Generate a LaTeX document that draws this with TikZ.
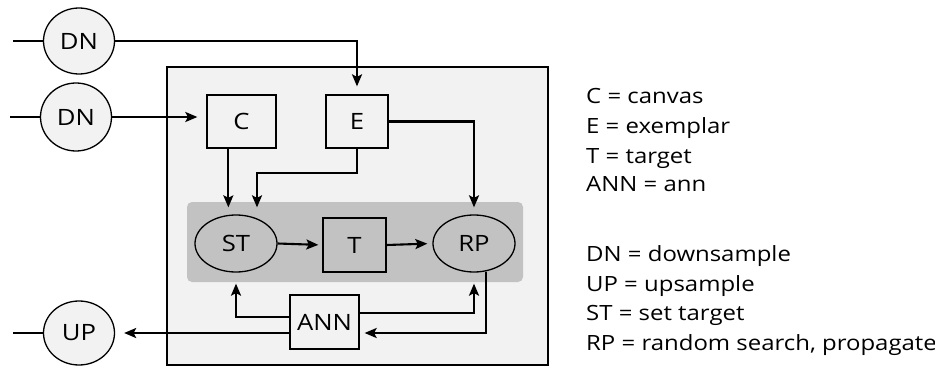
\documentclass[tikz,border=0pt]{standalone}
\usepackage{fontspec}
\setmainfont{Open Sans}[FakeStretch=1.14]
\usetikzlibrary{shapes.geometric,arrows.meta,calc}
\definecolor{lightbg}{HTML}{F2F2F2}
\definecolor{bandgray}{HTML}{C2C2C2}
\tikzset{
  box/.style={draw, line width=1.3pt, fill=lightbg, minimum width=#1, inner sep=0pt, font=\fontsize{22.5}{26}\selectfont},
  ell/.style={draw, ellipse, line width=1.3pt, inner sep=0pt, font=\fontsize{22.5}{26}\selectfont},
  conn/.style={line width=2.1pt},
  arr/.style={conn, -{Stealth[length=12pt,width=10pt,inset=2.5pt]}},
  legend/.style={anchor=base west, inner sep=0pt, font=\fontsize{21}{25}\selectfont}
}
\begin{document}
\begin{tikzpicture}[x=1pt,y=-1pt]
\useasboundingbox (0,0) rectangle (935,369);
% frame and band
\node[draw, line width=1.3pt, fill=lightbg, minimum width=381pt, minimum height=298pt, inner sep=0pt] (frame) at (357.5,216) {};
\node[fill=bandgray, rounded corners=5pt, minimum width=336pt, minimum height=80pt, inner sep=0pt] (band) at (355,242) {};
% outer nodes
\node[ell, fill=lightbg, minimum width=71pt, minimum height=66pt] (dn1) at (79,41) {DN};
\node[ell, fill=lightbg, minimum width=71pt, minimum height=68pt] (dn2) at (76,117) {DN};
\node[ell, fill=lightbg, minimum width=71pt, minimum height=64pt] (up) at (79,333) {UP};
% inner nodes
\node[box=69pt, minimum height=53pt] (c) at (241.5,121.5) {C};
\node[box=62pt, minimum height=53pt] (e) at (357,121.5) {E};
\node[ell, fill=bandgray, minimum width=82pt, minimum height=57pt] (st) at (236,243.5) {ST};
\node[box=63pt, minimum height=54pt, fill=bandgray] (t) at (354.5,245) {T};
\node[ell, fill=bandgray, minimum width=82pt, minimum height=57pt] (rp) at (474,243.5) {RP};
\node[box=69pt, minimum height=54pt] (ann) at (324.5,322) {ANN};
% free ends and bends
\coordinate (in1) at (13,41);
\coordinate (in2) at (10,117);
\coordinate (out) at (13,333);
\coordinate (ej) at (257,173);
\coordinate (cj) at ($(c.south west)+(22,0)$);
\coordinate (ann1) at ($(ann.west)+(0,-5)$);
\coordinate (ann2) at ($(ann.east)+(0,-9)$);
\coordinate (ann3) at ($(ann.east)+(0,11)$);
\coordinate (ann4) at ($(ann.west)+(0,11)$);
\coordinate (rp1) at ($(rp.south)+(12,-1)$);
% connectors
\draw[conn] (in1) -- (dn1.west);
\draw[conn] (in2) -- (dn2.west);
\draw[conn] (up.west) -- (out);
\draw[arr, shorten >=8pt] (dn1.east) -| (e.north);
\draw[arr, shorten >=9pt] (dn2.east) -- (dn2.east -| c.west);
\draw[arr, shorten >=7pt] (cj) -- (cj |- st.north);
\draw[arr, shorten >=7pt] (e.south) |- (ej) -- (ej |- st.north);
\draw[arr, shorten >=7pt] (e.east) -| (rp.north);
\draw[arr, shorten >=4pt] (st.east) -- (t.west);
\draw[arr, shorten >=5pt] (t.east) -- (rp.west);
\draw[arr, shorten >=11pt] (ann1) -| (st.south);
\draw[arr, shorten >=11pt] (ann2) -| (rp.south);
\draw[arr, shorten >=5pt] (rp1) |- (ann3);
\draw[arr, shorten >=9pt] (ann4) -- (ann4 -| up.east);
% legend
\node[legend] (l1) at (586,103.3) {C = canvas};
\node[legend] (l2) at (586,133.3) {E = exemplar};
\node[legend] (l3) at (586,163.3) {T = target};
\node[legend] (l4) at (586,191.7) {ANN = ann};
\node[legend] (l5) at (586,261.7) {DN = downsample};
\node[legend] (l6) at (586,291.7) {UP = upsample};
\node[legend] (l7) at (586,320) {ST = set target};
\node[legend] (l8) at (586,350) {RP = random search, propagate};
\end{tikzpicture}
\end{document}
